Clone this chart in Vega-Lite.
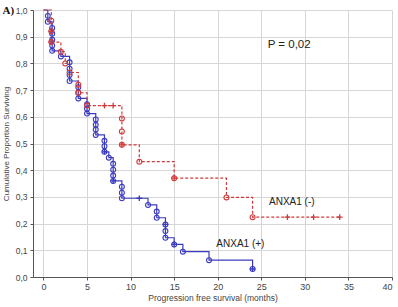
{
  "$schema": "https://vega.github.io/schema/vega-lite/v6.json",
  "width": 359,
  "height": 267,
  "autosize": {"type": "none"},
  "padding": {"left": 33, "top": 10, "right": 6, "bottom": 30},
  "background": "white",
  "config": {"view": {"stroke": null}, "font": "Liberation Sans"},
  "datasets": {
    "km": [
      {"g": "ANXA1 (+)", "k": 0, "t": 0, "s": 1.0, "m": ""},
      {"g": "ANXA1 (+)", "k": 1, "t": 0.5, "s": 0.978, "m": "o"},
      {"g": "ANXA1 (+)", "k": 2, "t": 0.5, "s": 0.956, "m": "o"},
      {"g": "ANXA1 (+)", "k": 3, "t": 1, "s": 0.933, "m": "o"},
      {"g": "ANXA1 (+)", "k": 4, "t": 1, "s": 0.911, "m": "o"},
      {"g": "ANXA1 (+)", "k": 5, "t": 1, "s": 0.889, "m": "o"},
      {"g": "ANXA1 (+)", "k": 6, "t": 1, "s": 0.867, "m": "o"},
      {"g": "ANXA1 (+)", "k": 7, "t": 1, "s": 0.847, "m": "o"},
      {"g": "ANXA1 (+)", "k": 8, "t": 2, "s": 0.826, "m": "o"},
      {"g": "ANXA1 (+)", "k": 9, "t": 3, "s": 0.804, "m": "o"},
      {"g": "ANXA1 (+)", "k": 10, "t": 3, "s": 0.78, "m": "o"},
      {"g": "ANXA1 (+)", "k": 11, "t": 3, "s": 0.757, "m": "o"},
      {"g": "ANXA1 (+)", "k": 12, "t": 3, "s": 0.734, "m": "o"},
      {"g": "ANXA1 (+)", "k": 13, "t": 4, "s": 0.711, "m": "o"},
      {"g": "ANXA1 (+)", "k": 14, "t": 4, "s": 0.69, "m": "o"},
      {"g": "ANXA1 (+)", "k": 15, "t": 4, "s": 0.669, "m": "o"},
      {"g": "ANXA1 (+)", "k": 16, "t": 5, "s": 0.647, "m": "o"},
      {"g": "ANXA1 (+)", "k": 17, "t": 5, "s": 0.63, "m": "o"},
      {"g": "ANXA1 (+)", "k": 18, "t": 5, "s": 0.612, "m": "o"},
      {"g": "ANXA1 (+)", "k": 19, "t": 6, "s": 0.59, "m": "o"},
      {"g": "ANXA1 (+)", "k": 20, "t": 6, "s": 0.57, "m": "o"},
      {"g": "ANXA1 (+)", "k": 21, "t": 6, "s": 0.552, "m": "o"},
      {"g": "ANXA1 (+)", "k": 22, "t": 6, "s": 0.532, "m": "o"},
      {"g": "ANXA1 (+)", "k": 23, "t": 7, "s": 0.51, "m": "o"},
      {"g": "ANXA1 (+)", "k": 24, "t": 7, "s": 0.49, "m": "o"},
      {"g": "ANXA1 (+)", "k": 25, "t": 7, "s": 0.469, "m": "o+"},
      {"g": "ANXA1 (+)", "k": 26, "t": 7.5, "s": 0.447, "m": "o"},
      {"g": "ANXA1 (+)", "k": 27, "t": 8, "s": 0.424, "m": "o"},
      {"g": "ANXA1 (+)", "k": 28, "t": 8, "s": 0.402, "m": "o"},
      {"g": "ANXA1 (+)", "k": 29, "t": 8, "s": 0.38, "m": "o"},
      {"g": "ANXA1 (+)", "k": 30, "t": 8, "s": 0.36, "m": "o+"},
      {"g": "ANXA1 (+)", "k": 31, "t": 9, "s": 0.338, "m": "o"},
      {"g": "ANXA1 (+)", "k": 32, "t": 9, "s": 0.316, "m": "o"},
      {"g": "ANXA1 (+)", "k": 33, "t": 9, "s": 0.295, "m": "o"},
      {"g": "ANXA1 (+)", "k": 34, "t": 11, "s": 0.295, "m": "+"},
      {"g": "ANXA1 (+)", "k": 35, "t": 12, "s": 0.27, "m": "o"},
      {"g": "ANXA1 (+)", "k": 36, "t": 13, "s": 0.245, "m": "o"},
      {"g": "ANXA1 (+)", "k": 37, "t": 13, "s": 0.222, "m": "o"},
      {"g": "ANXA1 (+)", "k": 38, "t": 14, "s": 0.197, "m": "o+"},
      {"g": "ANXA1 (+)", "k": 39, "t": 14, "s": 0.172, "m": "o"},
      {"g": "ANXA1 (+)", "k": 40, "t": 14, "s": 0.147, "m": "o"},
      {"g": "ANXA1 (+)", "k": 41, "t": 15, "s": 0.122, "m": "o+"},
      {"g": "ANXA1 (+)", "k": 42, "t": 16, "s": 0.095, "m": "o"},
      {"g": "ANXA1 (+)", "k": 43, "t": 19, "s": 0.063, "m": "o"},
      {"g": "ANXA1 (+)", "k": 44, "t": 24, "s": 0.03, "m": "o+"},
      {"g": "ANXA1 (-)", "k": 0, "t": 0, "s": 1.0, "m": ""},
      {"g": "ANXA1 (-)", "k": 1, "t": 0.9, "s": 0.96, "m": "o"},
      {"g": "ANXA1 (-)", "k": 2, "t": 0.9, "s": 0.92, "m": "o+"},
      {"g": "ANXA1 (-)", "k": 3, "t": 0.9, "s": 0.88, "m": "o+"},
      {"g": "ANXA1 (-)", "k": 4, "t": 2, "s": 0.844, "m": "o"},
      {"g": "ANXA1 (-)", "k": 5, "t": 2.5, "s": 0.80, "m": "o"},
      {"g": "ANXA1 (-)", "k": 6, "t": 3, "s": 0.766, "m": "o"},
      {"g": "ANXA1 (-)", "k": 7, "t": 4, "s": 0.72, "m": "o"},
      {"g": "ANXA1 (-)", "k": 8, "t": 4, "s": 0.69, "m": "o"},
      {"g": "ANXA1 (-)", "k": 9, "t": 5, "s": 0.642, "m": "o"},
      {"g": "ANXA1 (-)", "k": 10, "t": 7, "s": 0.642, "m": "+"},
      {"g": "ANXA1 (-)", "k": 11, "t": 8, "s": 0.642, "m": "+"},
      {"g": "ANXA1 (-)", "k": 12, "t": 9, "s": 0.594, "m": "o"},
      {"g": "ANXA1 (-)", "k": 13, "t": 9, "s": 0.545, "m": "o"},
      {"g": "ANXA1 (-)", "k": 14, "t": 9, "s": 0.495, "m": "o+"},
      {"g": "ANXA1 (-)", "k": 15, "t": 11, "s": 0.432, "m": "o"},
      {"g": "ANXA1 (-)", "k": 16, "t": 15, "s": 0.37, "m": "o+"},
      {"g": "ANXA1 (-)", "k": 17, "t": 21, "s": 0.298, "m": "o"},
      {"g": "ANXA1 (-)", "k": 18, "t": 24, "s": 0.224, "m": "o"},
      {"g": "ANXA1 (-)", "k": 19, "t": 28, "s": 0.224, "m": "+"},
      {"g": "ANXA1 (-)", "k": 20, "t": 31, "s": 0.224, "m": "+"},
      {"g": "ANXA1 (-)", "k": 21, "t": 34, "s": 0.224, "m": "+"}
    ],
    "notes": [
      {"kind": "p", "label": "P = 0,02", "t": 28.2, "s": 0.868},
      {"kind": "grp", "label": "ANXA1 (-)", "t": 28.5, "s": 0.28},
      {"kind": "grp", "label": "ANXA1 (+)", "t": 22.6, "s": 0.124},
      {"kind": "panel", "label": "A)", "t": -4.7, "s": 0.997}
    ]
  },
  "encoding": {
    "x": {
      "field": "t", "type": "quantitative",
      "scale": {"domain": [-1.2, 40], "nice": false, "zero": false},
      "axis": {
        "values": [0, 5, 10, 15, 20, 25, 30, 35, 40],
        "title": "Progression free survival (months)",
        "grid": true, "gridColor": "#d6d6d6", "gridWidth": 1,
        "domainColor": "#555555", "tickColor": "#555555", "tickSize": 3,
        "labelFontSize": 9, "labelColor": "#444444", "labelPadding": 2,
        "titleFontSize": 8.5, "titleFontWeight": "normal", "titleColor": "#444444", "titlePadding": 2
      }
    },
    "y": {
      "field": "s", "type": "quantitative",
      "scale": {"domain": [0, 1], "nice": false},
      "axis": {
        "values": [0, 0.1, 0.2, 0.3, 0.4, 0.5, 0.6, 0.7, 0.8, 0.9, 1.0],
        "labelExpr": "replace(format(datum.value, '.1f'), '.', ',')",
        "title": "Cumulative Proportion Surviving",
        "grid": true, "gridColor": "#d6d6d6", "gridWidth": 1,
        "domainColor": "#555555", "tickColor": "#555555", "tickSize": 3,
        "labelFontSize": 8.5, "labelColor": "#444444", "labelPadding": 3,
        "titleFontSize": 8, "titleFontWeight": "normal", "titleColor": "#444444", "titlePadding": 5
      }
    }
  },
  "layer": [
    {
      "data": {"name": "km"},
      "mark": {"type": "line", "interpolate": "step-after", "strokeWidth": 1.2},
      "encoding": {
        "color": {"field": "g", "type": "nominal", "scale": {"domain": ["ANXA1 (+)", "ANXA1 (-)"], "range": ["#3a3ac0", "#d03a3a"]}, "legend": null},
        "strokeDash": {"field": "g", "type": "nominal", "scale": {"domain": ["ANXA1 (+)", "ANXA1 (-)"], "range": [[1, 0], [3, 2]]}, "legend": null},
        "order": {"field": "k", "type": "quantitative"}
      }
    },
    {
      "data": {"name": "km"},
      "transform": [{"filter": "indexof(datum.m, 'o') >= 0"}],
      "mark": {"type": "point", "shape": "circle", "filled": false, "size": 24, "strokeWidth": 1.1, "opacity": 1},
      "encoding": {
        "color": {"field": "g", "type": "nominal", "scale": {"domain": ["ANXA1 (+)", "ANXA1 (-)"], "range": ["#3a3ac0", "#d03a3a"]}, "legend": null}
      }
    },
    {
      "data": {"name": "km"},
      "transform": [{"filter": "indexof(datum.m, '+') >= 0"}],
      "mark": {"type": "point", "shape": "M-1,0H1M0,-1V1", "filled": false, "size": 32, "strokeWidth": 1.3, "opacity": 1},
      "encoding": {
        "color": {"field": "g", "type": "nominal", "scale": {"domain": ["ANXA1 (+)", "ANXA1 (-)"], "range": ["#3a3ac0", "#d03a3a"]}, "legend": null}
      }
    },
    {
      "data": {"name": "notes"},
      "transform": [{"filter": "datum.kind == 'p'"}],
      "mark": {"type": "text", "fontSize": 11.5, "color": "#222222", "align": "center", "baseline": "middle"},
      "encoding": {"text": {"field": "label"}}
    },
    {
      "data": {"name": "notes"},
      "transform": [{"filter": "datum.kind == 'grp'"}],
      "mark": {"type": "text", "fontSize": 10, "color": "#222222", "align": "center", "baseline": "middle"},
      "encoding": {"text": {"field": "label"}}
    },
    {
      "data": {"name": "notes"},
      "transform": [{"filter": "datum.kind == 'panel'"}],
      "mark": {"type": "text", "font": "Liberation Serif", "fontSize": 11, "fontWeight": "bold", "color": "#111111", "align": "left", "baseline": "middle"},
      "encoding": {"text": {"field": "label"}}
    }
  ]
}
